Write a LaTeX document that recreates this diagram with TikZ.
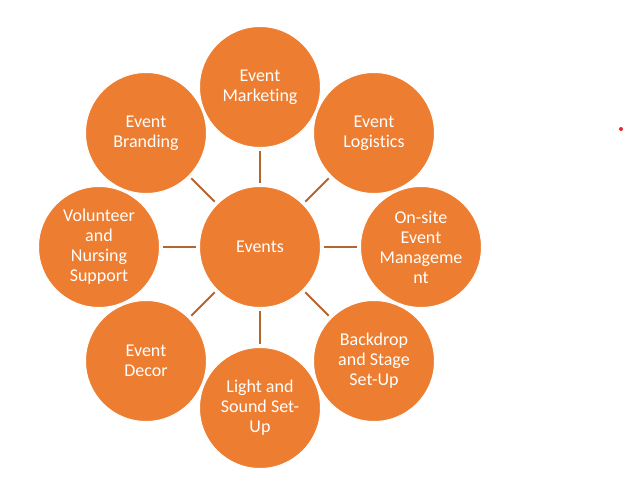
\documentclass[tikz,border=0pt]{standalone}
\usepackage{fontspec}
\setmainfont[Ligatures=NoCommon]{Carlito}
\definecolor{ringorange}{HTML}{ED7D31}
\definecolor{spokebrown}{HTML}{B5652E}
\definecolor{dotred}{HTML}{E52828}
\begin{document}
\begin{tikzpicture}[x=0.75pt, y=-0.75pt,
    petal/.style={circle, fill=ringorange, draw=white, line width=0.75pt,
      minimum size=90.75pt, inner sep=0pt, align=center, text=white,
      font=\fontsize{13.5}{15}\selectfont},
    spoke/.style={draw=spokebrown, line width=1.5pt, shorten <=2.25pt, shorten >=2.25pt}]
    \useasboundingbox (0,0) rectangle (625,482);

    \node [petal] (E) at (260,247) {Events};
    \node [petal] (M) at (260,87) {Event\\Marketing};
    \node [petal] (L) at (374,133) {Event\\Logistics};
    \node [petal] (O) at (421,247) {On-site\\Event\\Manageme\\nt};
    \node [petal] (B) at (374,361) {Backdrop\\and Stage\\Set-Up};
    \node [petal] (S) at (260,408) {Light and\\Sound Set-\\Up};
    \node [petal] (D) at (146,361) {Event\\Decor};
    \node [petal] (V) at (99,247) {Volunteer\\and\\Nursing\\Support};
    \node [petal] (R) at (146,133) {Event\\Branding};

    \draw [spoke] (E) -- (M);
    \draw [spoke] (E) -- (L);
    \draw [spoke] (E) -- (O);
    \draw [spoke] (E) -- (B);
    \draw [spoke] (E) -- (S);
    \draw [spoke] (E) -- (D);
    \draw [spoke] (E) -- (V);
    \draw [spoke] (E) -- (R);

    \fill [dotred] (621,129) circle (2);
\end{tikzpicture}
\end{document}
